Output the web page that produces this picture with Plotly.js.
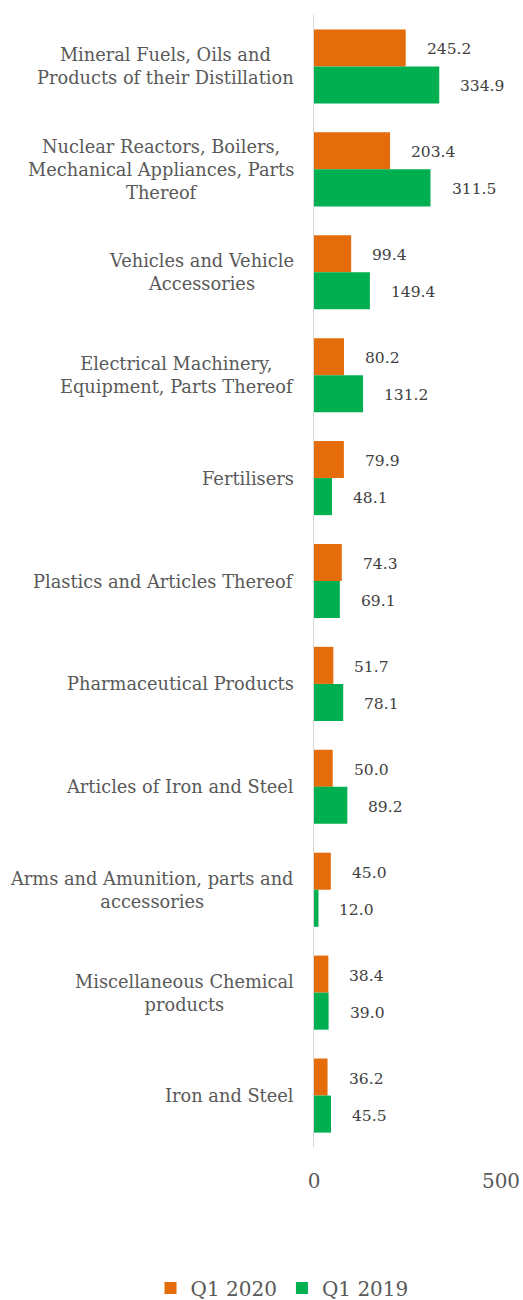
<!DOCTYPE html>
<html>
<head>
<meta charset="utf-8">
<script src="https://cdn.plot.ly/plotly-3.0.1.min.js"></script>
<style>html,body{margin:0;padding:0;background:#fff;}#chart{width:523px;height:1300px;}</style>
</head>
<body>
<div id="chart"></div>
<script>
const categories = [
  "Mineral Fuels, Oils and<br>Products of their Distillation",
  "Nuclear Reactors, Boilers,<br>Mechanical Appliances, Parts<br>Thereof",
  "Vehicles and Vehicle<br>Accessories",
  "Electrical Machinery,<br>Equipment, Parts Thereof",
  "Fertilisers",
  "Plastics and Articles Thereof",
  "Pharmaceutical Products",
  "Articles of Iron and Steel",
  "Arms and Amunition, parts and<br>accessories",
  "Miscellaneous Chemical<br>products",
  "Iron and Steel"
];
const q1_2020 = [245.2, 203.4, 99.4, 80.2, 79.9, 74.3, 51.7, 50.0, 45.0, 38.4, 36.2];
const q1_2019 = [334.9, 311.5, 149.4, 131.2, 48.1, 69.1, 78.1, 89.2, 12.0, 39.0, 45.5];
const seriesNames = ["Q1 2020", "Q1 2019"];
const xTicks = [0, 500];

const FONT = "DejaVu Serif, serif";
const GREY = "#595959";

const traces = [
  {type: "bar", orientation: "h", name: seriesNames[0], y: categories, x: q1_2020,
   marker: {color: "#E46C0A"}, hoverinfo: "x"},
  {type: "bar", orientation: "h", name: seriesNames[1], y: categories, x: q1_2019,
   marker: {color: "#00B050"}, hoverinfo: "x"}
];

const annotations = [];
categories.forEach((c, i) => {
  annotations.push({x: 0, xref: "paper", y: c, yref: "y", text: c, showarrow: false,
    xanchor: "right", yanchor: "middle", align: "center", xshift: -18,
    font: {family: FONT, size: 17.8, color: GREY}});
  annotations.push({x: q1_2020[i], xref: "x", y: c, yref: "y", text: q1_2020[i].toFixed(1),
    showarrow: false, xanchor: "left", yanchor: "middle", xshift: 19, yshift: 17,
    font: {family: FONT, size: 15.5, color: "#404040"}});
  annotations.push({x: q1_2019[i], xref: "x", y: c, yref: "y", text: q1_2019[i].toFixed(1),
    showarrow: false, xanchor: "left", yanchor: "middle", xshift: 19, yshift: -20,
    font: {family: FONT, size: 15.5, color: "#404040"}});
});

const layout = {
  width: 523, height: 1300,
  margin: {l: 314, r: 22, t: 15, b: 153, pad: 0, autoexpand: false},
  paper_bgcolor: "#fff", plot_bgcolor: "#fff",
  barmode: "group", bargap: 0.28, bargroupgap: 0,
  font: {family: FONT, color: GREY},
  xaxis: {range: [0, 500], tickvals: xTicks, ticktext: xTicks.map(String), showgrid: false,
    zeroline: false, showline: false, ticks: "", ticklabelstandoff: 20, automargin: false,
    tickfont: {family: FONT, size: 20, color: GREY}, fixedrange: true},
  yaxis: {type: "category", autorange: "reversed", showticklabels: false, showgrid: false,
    zeroline: false, showline: true, linecolor: "#D9D9D9", linewidth: 1.5, ticks: "",
    automargin: false, fixedrange: true},
  showlegend: true,
  legend: {orientation: "h", x: -0.171, xanchor: "center", y: -0.1246, yanchor: "middle",
    font: {family: FONT, size: 20, color: GREY}, traceorder: "normal"},
  annotations: annotations
};

Plotly.newPlot("chart", traces, layout, {displayModeBar: false, staticPlot: true});
</script>
</body>
</html>
